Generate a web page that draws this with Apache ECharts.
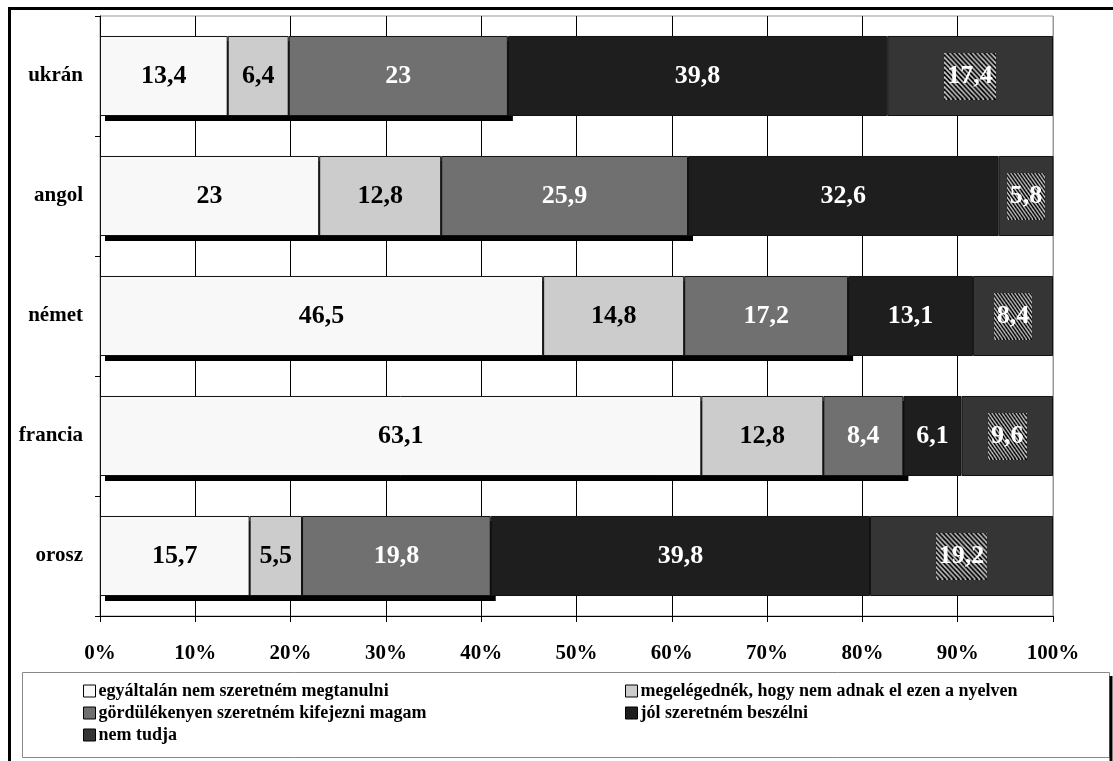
<!DOCTYPE html>
<html>
<head>
<meta charset="utf-8">
<script src="https://cdn.jsdelivr.net/npm/echarts@6/dist/echarts.min.js"></script>
<style>html,body{margin:0;padding:0;background:#fff}#c{width:1113px;height:761px}</style>
</head>
<body>
<div id="c"></div>
<script>
const categories = ['ukrán', 'angol', 'német', 'francia', 'orosz'];
const seriesNames = [
  'egyáltalán nem szeretném megtanulni',
  'megelégednék, hogy nem adnak el ezen a nyelven',
  'gördülékenyen szeretném kifejezni magam',
  'jól szeretném beszélni',
  'nem tudja'
];
const s1 = [13.4, 23, 46.5, 63.1, 15.7];
const s2 = [6.4, 12.8, 14.8, 12.8, 5.5];
const s3 = [23, 25.9, 17.2, 8.4, 19.8];
const s4 = [39.8, 32.6, 13.1, 6.1, 39.8];
const s5 = [17.4, 5.8, 8.4, 9.6, 19.2];
const xTicks = [0, 10, 20, 30, 40, 50, 60, 70, 80, 90, 100];

const values = [s1, s2, s3, s4, s5];
const colors = ['#f8f8f8', '#cccccc', '#707070', '#1e1e1e', '#353535'];
const textColors = ['#000', '#000', '#fff', '#fff', '#fff'];
const FONT = '"Liberation Serif", "Times New Roman", serif';

// hatched pattern for "nem tudja" labels
const hatch = document.createElement('canvas');
hatch.width = 56; hatch.height = 48;
(function(){
  const g = hatch.getContext('2d');
  g.fillStyle = '#000'; g.fillRect(0, 0, 56, 48);
  g.strokeStyle = '#d0d0d0'; g.lineWidth = 1.6;
  for (let k = -60; k < 120; k += 5) {
    g.beginPath(); g.moveTo(k, 0); g.lineTo(k + 48, 48); g.stroke();
  }
})();

const fmt = p => String(p.value).replace('.', ',');

// shadow under the first three segments (their cumulative extent)
const shadowData = categories.map((c, i) => [s1[i] + s2[i] + s3[i], i]);

const series = values.map((arr, i) => {
  const s = {
    name: seriesNames[i],
    type: 'bar',
    stack: 'total',
    barCategoryGap: '33.3%',
    data: arr,
    z: 3,
    itemStyle: { color: colors[i], borderColor: '#111', borderWidth: 1 },
    emphasis: { disabled: true },
    label: {
      show: true, position: 'inside', formatter: fmt,
      color: textColors[i], fontFamily: FONT, fontWeight: 'bold', fontSize: 26
    }
  };
  if (i === 4) {
    s.label.backgroundColor = { image: hatch };
    s.label.padding = [11, 3, 10, 3];
  }
  return s;
});

series.unshift({
  type: 'custom',
  name: 'shadow',
  z: 2,
  silent: true,
  data: shadowData,
  encode: { x: 0, y: 1 },
  renderItem: function (params, api) {
    const end = api.coord([api.value(0), api.value(1)]);
    const start = api.coord([0, api.value(1)]);
    const band = api.size([0, 1])[1];
    const h = band * 0.667;
    return {
      type: 'rect',
      shape: { x: start[0] + 5, y: end[1] - h / 2 + 5, width: end[0] - start[0], height: h },
      style: { fill: '#000' }
    };
  }
});

const legendCommon = {
  orient: 'vertical', icon: 'rect', itemWidth: 12, itemHeight: 12, itemGap: 4,
  textStyle: { fontFamily: FONT, fontWeight: 'bold', fontSize: 18, color: '#000', padding: [0, 0, 0, -2] },
  itemStyle: { borderColor: '#000', borderWidth: 1 },
  selectedMode: false
};

const chart = echarts.init(document.getElementById('c'), null, { renderer: 'canvas' });
chart.setOption({
  animation: false,
  backgroundColor: '#fff',
  grid: { left: 100, right: 60, top: 16, bottom: 145, show: true, borderColor: '#999', borderWidth: 1, backgroundColor: 'transparent' },
  xAxis: {
    type: 'value', min: 0, max: 100, interval: 10,
    axisLine: { show: true, lineStyle: { color: '#000' } },
    axisTick: { show: true, length: 6, lineStyle: { color: '#000' } },
    splitLine: { show: true, lineStyle: { color: xTicks.map((t, k) => k === xTicks.length - 1 ? '#999' : '#000'), width: 1 } },
    axisLabel: { formatter: '{value}%', fontFamily: FONT, fontWeight: 'bold', fontSize: 21, color: '#000', margin: 27 }
  },
  yAxis: {
    type: 'category', data: categories, inverse: true,
    axisLine: { show: true, lineStyle: { color: '#000' } },
    axisTick: { show: true, length: 5, lineStyle: { color: '#000' } },
    axisLabel: { fontFamily: FONT, fontWeight: 'bold', fontSize: 21, color: '#000', margin: 17 }
  },
  legend: [
    Object.assign({}, legendCommon, { left: 78, top: 677, data: [seriesNames[0], seriesNames[2], seriesNames[4]] }),
    Object.assign({}, legendCommon, { left: 620, top: 677, data: [seriesNames[1], seriesNames[3]] })
  ],
  graphic: [
    { type: 'rect', shape: { x: 22.5, y: 672.5, width: 1087, height: 85 }, style: { fill: 'transparent', stroke: '#888', lineWidth: 1 }, z: -1 },
    { type: 'line', shape: { x1: 1111, y1: 676, x2: 1111, y2: 761 }, style: { stroke: '#000', lineWidth: 3 } },
    { type: 'line', shape: { x1: 8, y1: 8.5, x2: 1113, y2: 8.5 }, style: { stroke: '#000', lineWidth: 3 } },
    { type: 'line', shape: { x1: 9.5, y1: 8, x2: 9.5, y2: 761 }, style: { stroke: '#000', lineWidth: 3 } }
  ],
  series: series
});
</script>
</body>
</html>
